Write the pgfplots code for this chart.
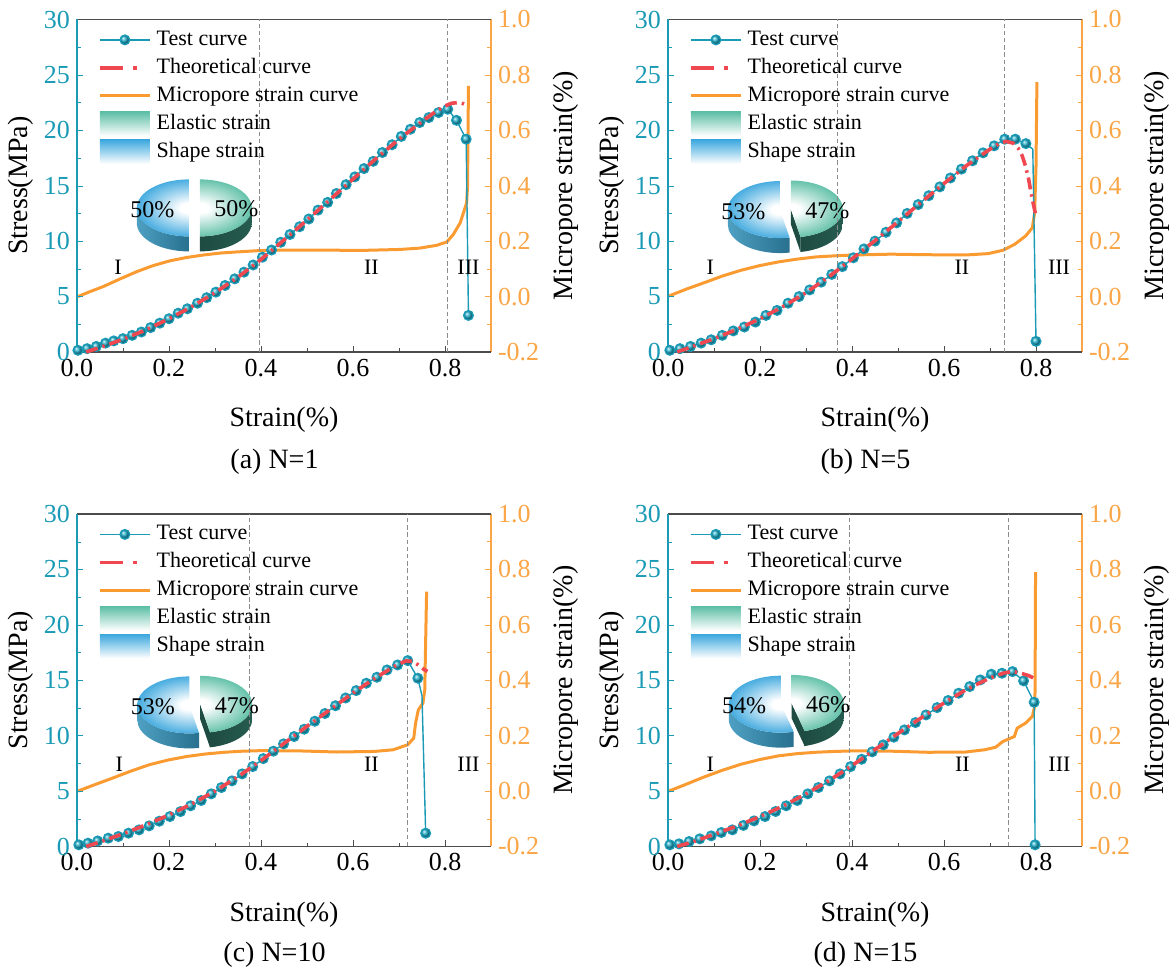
\documentclass[border=0pt]{standalone}
\usepackage{fontspec}
\setmainfont{Liberation Serif}
\usepackage{pgfplots}
\pgfplotsset{compat=1.18}
\definecolor{testc}{RGB}{26,154,181}
\definecolor{ballc}{RGB}{30,172,200}
\definecolor{theoc}{RGB}{240,72,80}
\definecolor{microc}{RGB}{250,155,50}
\definecolor{oaxis}{RGB}{250,165,70}
\definecolor{pieB}{RGB}{62,168,222}
\definecolor{pieG}{RGB}{93,191,166}
\definecolor{bsideL}{RGB}{78,160,195}
\definecolor{bsideR}{RGB}{40,112,142}
\definecolor{gsideL}{RGB}{30,75,66}
\definecolor{gsideR}{RGB}{38,92,80}
\pgfdeclareradialshading{pieBsh}{\pgfpointorigin}{color(0bp)=(white); color(4bp)=(white); color(25bp)=(pieB); color(50bp)=(pieB)}
\pgfdeclareradialshading{pieGsh}{\pgfpointorigin}{color(0bp)=(white); color(4bp)=(white); color(25bp)=(pieG); color(50bp)=(pieG)}

\pgfplotsset{
 base/.style={scale only axis, width=207pt, height=166.25pt, xmin=0, xmax=0.9, anchor=south west,
   tick align=inside, major tick length=3pt, minor tick length=1.8pt,
   /pgf/number format/assume math mode=true,
   tick label style={font=\fontsize{13}{15}\selectfont},
   label style={font=\fontsize{14}{16}\selectfont}},
 microax/.style={base, ymin=-0.2, ymax=1.0, separate axis lines, axis y line*=right, axis x line=none,
   ytick={-0.2,0,0.2,0.4,0.6,0.8,1.0}, minor y tick num=1,
   yticklabel style={/pgf/number format/fixed, /pgf/number format/fixed zerofill, /pgf/number format/precision=1, text=oaxis},
   y axis line style={draw=oaxis, line width=0.8pt}, ytick style={draw=oaxis},
   ylabel={Micropore strain(\%)}, ylabel style={at={(axis description cs:1.18,0.5)}, anchor=center}},
 stressax/.style={base, ymin=0, ymax=30, clip=false, clip marker paths=true, separate axis lines, axis x line*=box, axis y line*=left, xtick pos=left,
   xtick={0,0.2,0.4,0.6,0.8}, minor x tick num=1, ytick={0,5,10,15,20,25,30}, minor y tick num=1,
   xticklabel style={/pgf/number format/fixed, /pgf/number format/fixed zerofill, /pgf/number format/precision=1},
   yticklabel style={text=testc},
   x axis line style={draw=black!70, line width=0.8pt}, y axis line style={draw=testc, line width=0.8pt},
   xtick style={draw=black!70}, ytick style={draw=testc},
   xlabel={Strain(\%)}, xlabel style={at={(axis description cs:0.5,-0.205)}, anchor=center},
   ylabel={Stress(MPa)}, ylabel style={at={(axis description cs:-0.137,0.5)}, anchor=center},
   legend style={at={(axis description cs:0.05,1)}, yshift=-3pt, anchor=north west, draw=none, fill=none,
     inner sep=0pt, font=\fontsize{11}{13}\selectfont, row sep=0pt, column sep=1pt,
     nodes={inner sep=1.5pt, text height=8.2pt, text depth=2.8pt}},
   legend cell align=left},
 testline/.style={testc, line width=0.7pt, mark=ball, mark size=2.4pt, mark options={ball color=ballc}},
 theoline/.style={theoc, line width=1.8pt, dash pattern=on 6pt off 2.5pt on 1.2pt off 2.5pt},
 microline/.style={microc, line width=1.5pt},
 dline/.style={black!45, line width=0.6pt, dash pattern=on 2.2pt off 1.4pt},
 legtest/.style={testline, legend image code/.code={\draw[mark repeat=2,mark phase=2,##1] plot coordinates {(0pt,0pt)(12.5pt,0pt)(25pt,0pt)};}},
 legtheo/.style={theoline, legend image code/.code={\draw[##1, dash pattern=on 11.5pt off 5pt on 2pt off 10pt] (0pt,0pt) -- (25pt,0pt);}},
 legmicro/.style={microline, legend image code/.code={\draw[##1] (0pt,0pt) -- (25pt,0pt);}},
 legel/.style={legend image code/.code={\shade[draw=none, top color=pieG, bottom color=white] (0pt,-6pt) rectangle (25pt,6pt);}},
 legsh/.style={legend image code/.code={\shade[draw=none, top color=pieB, bottom color=white] (0pt,-6pt) rectangle (25pt,6pt);}},
}
\newcommand{\drawpie}[2]{% #1 shape (blue) percent, #2 elastic (green) percent
 \pgfmathsetmacro{\ag}{90-3.6*#2}%
 \pgfmathsetmacro{\bg}{(90+\ag)/2}%
 \pgfmathsetmacro{\bb}{\bg+180}%
 \pgfmathsetmacro{\ab}{360+\ag}%
 \begin{scope}[shift={(\bb:2.75pt and 1.5pt)}]
   \shade[left color=bsideL, right color=bsideR] (180:26pt and 14.25pt) arc[start angle=180,end angle=\ab,x radius=26pt,y radius=14.25pt] -- ++(0,-7.5pt) arc[start angle=\ab,end angle=180,x radius=26pt,y radius=14.25pt] -- cycle;
   \begin{scope}
     \clip (0,0) -- (90:26pt and 14.25pt) arc[start angle=90,end angle=\ab,x radius=26pt,y radius=14.25pt] -- cycle;
     \shade[shading=pieBsh] (0,0) ellipse[x radius=27pt,y radius=15pt];
   \end{scope}
 \end{scope}
 \begin{scope}[shift={(\bg:2.75pt and 1.5pt)}]
   \fill[gsideL] (0,0) -- (\ag:26pt and 14.25pt) -- ++(0,-7.5pt) -- (0,-7.5pt) -- cycle;
   \shade[left color=gsideL, right color=gsideR] (\ag:26pt and 14.25pt) arc[start angle=\ag,end angle=0,x radius=26pt,y radius=14.25pt] -- ++(0,-7.5pt) arc[start angle=0,end angle=\ag,x radius=26pt,y radius=14.25pt] -- cycle;
   \begin{scope}
     \clip (0,0) -- (\ag:26pt and 14.25pt) arc[start angle=\ag,end angle=90,x radius=26pt,y radius=14.25pt] -- cycle;
     \shade[shading=pieGsh] (0,0) ellipse[x radius=27pt,y radius=15pt];
   \end{scope}
 \end{scope}
 \node[font=\fontsize{12}{14}\selectfont] at (-21pt,-1pt) {#1\%};
 \node[font=\fontsize{12}{14}\selectfont] at (21pt,-0.5pt) {#2\%};
}
\newcommand{\legitems}{%
 \addlegendimage{legtest}\addlegendimage{legtheo}\addlegendimage{legmicro}\addlegendimage{legel}\addlegendimage{legsh}%
}
\begin{document}
\begin{tikzpicture}
\useasboundingbox (0,0) rectangle (588pt,488.5pt);
% ================= (a) =================
\begin{axis}[microax, at={(38.5pt,312.5pt)}]
\addplot[microline, forget plot] coordinates {(0.002,0.0)(0.030,0.019)(0.057,0.036)(0.094,0.064)(0.130,0.090)(0.166,0.112)(0.202,0.129)(0.238,0.141)(0.275,0.150)(0.311,0.157)(0.347,0.161)(0.398,0.166)(0.456,0.168)(0.520,0.168)(0.580,0.167)(0.630,0.167)(0.702,0.170)(0.746,0.175)(0.782,0.185)(0.804,0.197)(0.818,0.224)(0.833,0.266)(0.840,0.302)(0.847,0.338)(0.849,0.398)(0.851,0.76)};
\coordinate (pa) at (axis cs:0.255,0.32);
\end{axis}
\begin{scope}[shift={(pa)}]\drawpie{50}{50}\end{scope}
\begin{axis}[stressax, at={(38.5pt,312.5pt)}]
\legitems
\addplot[dline, forget plot] coordinates {(0.396,0)(0.396,30)};
\addplot[dline, forget plot] coordinates {(0.805,0)(0.805,30)};
\addplot[testline, forget plot] coordinates {(0.002,0.15)(0.022,0.3)(0.042,0.5)(0.062,0.8)(0.080,1.0)(0.100,1.2)(0.120,1.5)(0.140,1.8)(0.160,2.2)(0.180,2.6)(0.200,3.0)(0.220,3.5)(0.240,3.9)(0.262,4.4)(0.282,4.9)(0.302,5.4)(0.322,6.0)(0.343,6.6)(0.363,7.2)(0.383,7.85)(0.403,8.55)(0.423,9.2)(0.443,9.9)(0.463,10.6)(0.484,11.3)(0.504,12.0)(0.524,12.8)(0.545,13.5)(0.564,14.3)(0.585,15.1)(0.604,15.8)(0.624,16.55)(0.644,17.2)(0.664,18.0)(0.685,18.7)(0.705,19.45)(0.725,20.1)(0.745,20.7)(0.765,21.15)(0.786,21.6)(0.806,21.9)(0.825,20.9)(0.846,19.2)(0.851,3.3)};
\addplot[theoline, forget plot] coordinates {(0.02,0)(0.06,0.55)(0.10,1.15)(0.15,2.0)(0.20,3.0)(0.25,4.1)(0.30,5.35)(0.35,6.75)(0.40,8.35)(0.45,10.1)(0.50,11.9)(0.55,13.75)(0.60,15.6)(0.65,17.45)(0.70,19.2)(0.75,20.8)(0.78,21.7)(0.80,22.2)(0.815,22.45)(0.83,22.5)(0.84,22.4)(0.848,22.25)};
\node[font=\fontsize{11}{13}\selectfont] at (axis cs:0.089,7.6) {I};
\node[font=\fontsize{11}{13}\selectfont] at (axis cs:0.64,7.6) {II};
\node[font=\fontsize{11}{13}\selectfont] at (axis cs:0.851,7.6) {III};
\node[font=\fontsize{14}{16}\selectfont] at (axis description cs:0.477,-0.33) {(a) N=1};
\legend{Test curve,Theoretical curve,Micropore strain curve,Elastic strain,Shape strain}
\end{axis}
% ================= (b) =================
\begin{axis}[microax, at={(334pt,312.5pt)}]
\addplot[microline, forget plot] coordinates {(0.002,0.002)(0.040,0.027)(0.077,0.049)(0.118,0.074)(0.159,0.095)(0.200,0.112)(0.240,0.125)(0.280,0.135)(0.321,0.143)(0.362,0.147)(0.403,0.150)(0.484,0.153)(0.566,0.151)(0.647,0.150)(0.696,0.155)(0.728,0.167)(0.753,0.188)(0.777,0.218)(0.792,0.248)(0.797,0.302)(0.800,0.47)(0.802,0.774)};
\coordinate (pb) at (axis cs:0.255,0.315);
\end{axis}
\begin{scope}[shift={(pb)}]\drawpie{53}{47}\end{scope}
\begin{axis}[stressax, at={(334pt,312.5pt)}]
\legitems
\addplot[dline, forget plot] coordinates {(0.369,0)(0.369,30)};
\addplot[dline, forget plot] coordinates {(0.732,0)(0.732,30)};
\addplot[testline, mark indices={1,...,34,36}, forget plot] coordinates {(0.004,0.15)(0.026,0.3)(0.049,0.5)(0.072,0.8)(0.094,1.1)(0.118,1.5)(0.142,1.9)(0.166,2.25)(0.190,2.7)(0.213,3.3)(0.237,3.75)(0.261,4.4)(0.285,5.0)(0.308,5.6)(0.333,6.3)(0.356,7.0)(0.379,7.7)(0.403,8.5)(0.426,9.3)(0.450,10.0)(0.474,10.8)(0.497,11.65)(0.520,12.5)(0.544,13.3)(0.567,14.1)(0.591,14.9)(0.614,15.7)(0.638,16.5)(0.662,17.25)(0.685,17.97)(0.709,18.6)(0.732,19.2)(0.755,19.2)(0.778,18.8)(0.793,18.3)(0.800,0.96)};
\addplot[theoline, forget plot] coordinates {(0.02,0)(0.06,0.6)(0.10,1.2)(0.15,2.05)(0.20,3.0)(0.25,4.1)(0.30,5.35)(0.35,6.8)(0.40,8.4)(0.45,10.05)(0.50,11.75)(0.55,13.5)(0.60,15.2)(0.65,16.85)(0.70,18.3)(0.72,18.8)(0.735,19.0)(0.75,18.85)(0.761,18.4)(0.77,17.7)(0.777,16.8)(0.784,15.6)(0.789,14.4)(0.795,13.2)(0.80,12.25)};
\node[font=\fontsize{11}{13}\selectfont] at (axis cs:0.092,7.6) {I};
\node[font=\fontsize{11}{13}\selectfont] at (axis cs:0.639,7.6) {II};
\node[font=\fontsize{11}{13}\selectfont] at (axis cs:0.85,7.6) {III};
\node[font=\fontsize{14}{16}\selectfont] at (axis description cs:0.477,-0.33) {(b) N=5};
\legend{Test curve,Theoretical curve,Micropore strain curve,Elastic strain,Shape strain}
\end{axis}
% ================= (c) =================
\begin{axis}[microax, at={(38.5pt,65.25pt)}]
\addplot[microline, forget plot] coordinates {(0.002,0.0)(0.040,0.024)(0.076,0.046)(0.117,0.072)(0.157,0.095)(0.198,0.112)(0.239,0.125)(0.280,0.134)(0.320,0.140)(0.360,0.144)(0.402,0.146)(0.483,0.145)(0.565,0.141)(0.646,0.143)(0.687,0.149)(0.719,0.167)(0.732,0.191)(0.736,0.245)(0.742,0.293)(0.752,0.317)(0.756,0.365)(0.758,0.545)(0.760,0.72)};
\coordinate (pc) at (axis cs:0.256,0.312);
\end{axis}
\begin{scope}[shift={(pc)}]\drawpie{53}{47}\end{scope}
\begin{axis}[stressax, at={(38.5pt,65.25pt)}]
\legitems
\addplot[dline, forget plot] coordinates {(0.375,0)(0.375,30)};
\addplot[dline, forget plot] coordinates {(0.719,0)(0.719,30)};
\addplot[testline, mark indices={1,...,34,36}, forget plot] coordinates {(0.004,0.15)(0.024,0.3)(0.045,0.5)(0.068,0.75)(0.090,0.9)(0.112,1.2)(0.135,1.5)(0.157,1.86)(0.179,2.28)(0.202,2.7)(0.225,3.15)(0.247,3.67)(0.270,4.15)(0.292,4.75)(0.314,5.32)(0.337,5.92)(0.359,6.55)(0.382,7.21)(0.405,7.93)(0.427,8.6)(0.449,9.26)(0.472,9.92)(0.494,10.58)(0.517,11.3)(0.539,12.0)(0.562,12.7)(0.584,13.4)(0.607,14.07)(0.629,14.73)(0.652,15.27)(0.674,15.93)(0.697,16.38)(0.719,16.77)(0.741,15.18)(0.750,13.6)(0.758,1.2)};
\addplot[theoline, forget plot] coordinates {(0.02,0)(0.06,0.55)(0.10,1.15)(0.15,1.95)(0.20,2.85)(0.25,3.85)(0.30,5.0)(0.35,6.3)(0.40,7.75)(0.45,9.3)(0.50,10.85)(0.55,12.35)(0.60,13.85)(0.65,15.25)(0.69,16.25)(0.715,16.75)(0.73,16.7)(0.745,16.3)(0.755,15.95)(0.762,15.8)};
\node[font=\fontsize{11}{13}\selectfont] at (axis cs:0.092,7.4) {I};
\node[font=\fontsize{11}{13}\selectfont] at (axis cs:0.64,7.4) {II};
\node[font=\fontsize{11}{13}\selectfont] at (axis cs:0.851,7.4) {III};
\node[font=\fontsize{14}{16}\selectfont] at (axis description cs:0.477,-0.326) {(c) N=10};
\legend{Test curve,Theoretical curve,Micropore strain curve,Elastic strain,Shape strain}
\end{axis}
% ================= (d) =================
\begin{axis}[microax, at={(334pt,65.25pt)}]
\addplot[microline, forget plot] coordinates {(0.002,0.0)(0.040,0.025)(0.077,0.050)(0.118,0.075)(0.159,0.097)(0.200,0.114)(0.240,0.127)(0.280,0.135)(0.321,0.140)(0.362,0.143)(0.403,0.145)(0.484,0.144)(0.566,0.140)(0.647,0.141)(0.688,0.149)(0.712,0.158)(0.728,0.179)(0.753,0.197)(0.759,0.227)(0.777,0.245)(0.792,0.269)(0.797,0.305)(0.798,0.365)(0.799,0.79)};
\coordinate (pd) at (axis cs:0.257,0.315);
\end{axis}
\begin{scope}[shift={(pd)}]\drawpie{54}{46}\end{scope}
\begin{axis}[stressax, at={(334pt,65.25pt)}]
\legitems
\addplot[dline, forget plot] coordinates {(0.394,0)(0.394,30)};
\addplot[dline, forget plot] coordinates {(0.741,0)(0.741,30)};
\addplot[testline, forget plot] coordinates {(0.004,0.15)(0.024,0.24)(0.046,0.45)(0.069,0.69)(0.094,0.96)(0.116,1.26)(0.140,1.5)(0.164,1.9)(0.187,2.31)(0.211,2.7)(0.234,3.16)(0.257,3.67)(0.281,4.15)(0.304,4.75)(0.327,5.32)(0.351,5.92)(0.374,6.55)(0.397,7.21)(0.421,7.87)(0.444,8.54)(0.468,9.17)(0.491,9.86)(0.514,10.52)(0.538,11.18)(0.561,11.87)(0.585,12.53)(0.609,13.17)(0.632,13.83)(0.656,14.43)(0.679,15.03)(0.703,15.54)(0.726,15.63)(0.749,15.78)(0.773,14.94)(0.796,13.01)(0.798,0.15)};
\addplot[theoline, forget plot] coordinates {(0.02,0)(0.06,0.5)(0.10,1.1)(0.15,1.85)(0.20,2.7)(0.25,3.65)(0.30,4.75)(0.35,5.95)(0.40,7.3)(0.45,8.75)(0.50,10.2)(0.55,11.6)(0.60,12.95)(0.65,14.2)(0.70,15.2)(0.73,15.65)(0.75,15.8)(0.77,15.6)(0.785,15.4)(0.797,15.15)};
\node[font=\fontsize{11}{13}\selectfont] at (axis cs:0.092,7.4) {I};
\node[font=\fontsize{11}{13}\selectfont] at (axis cs:0.64,7.4) {II};
\node[font=\fontsize{11}{13}\selectfont] at (axis cs:0.851,7.4) {III};
\node[font=\fontsize{14}{16}\selectfont] at (axis description cs:0.477,-0.326) {(d) N=15};
\legend{Test curve,Theoretical curve,Micropore strain curve,Elastic strain,Shape strain}
\end{axis}
\end{tikzpicture}
\end{document}
